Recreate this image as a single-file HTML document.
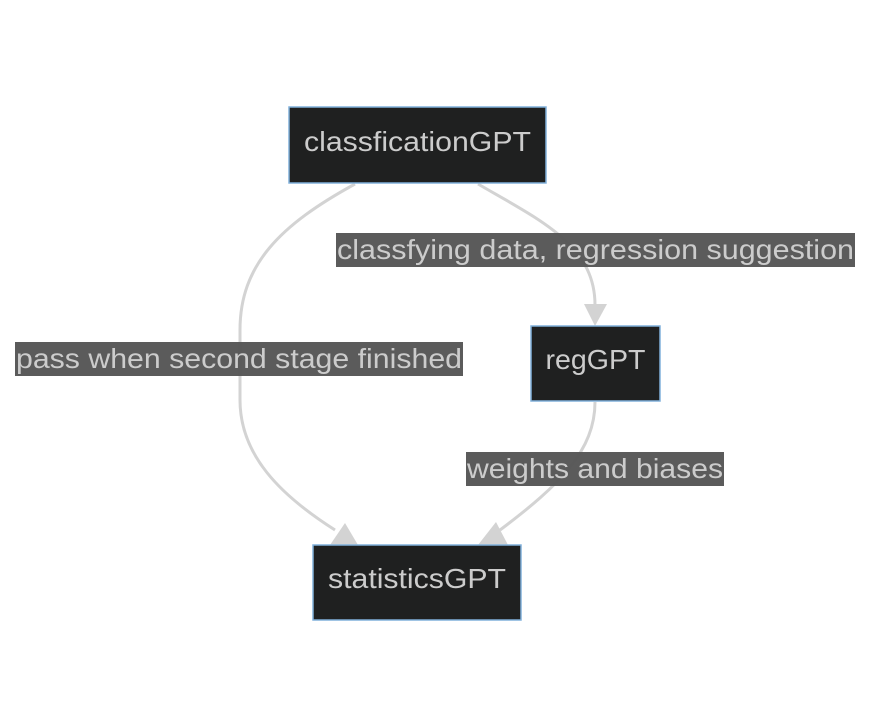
<!DOCTYPE html>
<html><head><meta charset="utf-8"><style>
html,body{margin:0;padding:0;background:#fff;}
svg{display:block}
text{font-family:"Liberation Sans",sans-serif;fill:#cccccc;}
</style></head><body>
<svg width="871" height="728" viewBox="0 0 871 728" xmlns="http://www.w3.org/2000/svg">
<g fill="none" stroke="#d3d3d3" stroke-width="3">
<path d="M355,184 C280,225 240,265 240,330 L240,400 C240,455 280,495 335,530"/>
<path d="M478,184 C540,220 595,245 595,305"/>
<path d="M595,402 C595,450 560,485 500,530"/>
</g>
<g fill="#d3d3d3">
<polygon points="330,545 358,545 345,523"/>
<polygon points="584,304 607,304 595,326"/>
<polygon points="478,545 508,545 496,522"/>
</g>
<g fill="#1f2020" stroke="#81b1db" stroke-width="1.5">
<rect x="289" y="107" width="257" height="76"/>
<rect x="531" y="326" width="129" height="75"/>
<rect x="313" y="545" width="208" height="75"/>
</g>
<g font-size="28" text-anchor="middle">
<text x="417.5" y="151" textLength="227" lengthAdjust="spacingAndGlyphs">classficationGPT</text>
<text x="595.5" y="369" textLength="100" lengthAdjust="spacingAndGlyphs">regGPT</text>
<text x="417" y="588" textLength="178" lengthAdjust="spacingAndGlyphs">statisticsGPT</text>
</g>
<g fill="#585858" opacity="0.98">
<rect x="336" y="233" width="519" height="34"/>
<rect x="15" y="342" width="448" height="34"/>
<rect x="466" y="452" width="258" height="34"/>
</g>
<g font-size="28" text-anchor="middle">
<text x="595.5" y="259" textLength="517" lengthAdjust="spacingAndGlyphs">classfying data, regression suggestion</text>
<text x="239" y="368" textLength="446" lengthAdjust="spacingAndGlyphs">pass when second stage finished</text>
<text x="595" y="478" textLength="256" lengthAdjust="spacingAndGlyphs">weights and biases</text>
</g>
</svg>
</body></html>
